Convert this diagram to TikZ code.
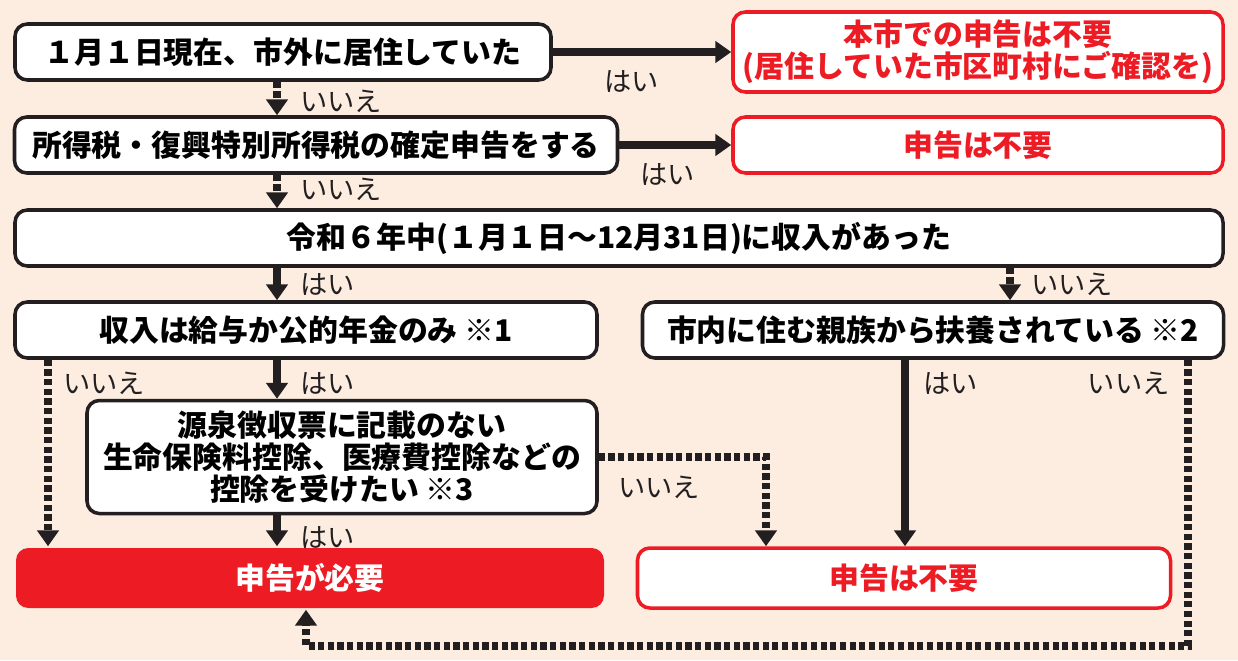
\documentclass[tikz,border=0pt]{standalone}
\usepackage{fontspec}
\setmainfont{Noto Sans CJK JP}
\usepackage{xcolor}
\usetikzlibrary{arrows.meta,calc,positioning}
\definecolor{bg}{RGB}{252,237,224}
\definecolor{hred}{RGB}{237,28,36}
\definecolor{ink}{RGB}{35,31,32}
\newlength\pw
\setlength\pw{0.02cm}

\begin{document}
\begin{tikzpicture}[x=0.02cm,y=-0.02cm,
    wh/.style 2 args={minimum width=#1*\pw,minimum height=#2*\pw},
    box/.style={draw=ink,line width=2pt,rounded corners=7pt,fill=white,align=center,
      inner sep=0pt,font=\fontsize{17}{18}\selectfont\bfseries},
    nobox/.style={box,draw=hred,text=hred},
    yesbox/.style={box,draw=none,fill=hred,text=white},
    tag/.style={inner sep=0pt,text=ink,font=\fontsize{15.5}{18}\selectfont},
    flow/.style={draw=ink,line width=4.5pt,-{Triangle[length=9pt,width=12pt]}},
    alt/.style={flow,dash pattern=on 3.5pt off 2pt}]
    \fill[bg] (0,0) rectangle (1238,660);

    \coordinate (c1) at (277,0);
    \coordinate (c2) at (1010,0);
    \coordinate (c3) at (48,0);
    \coordinate (c4) at (905,0);
    \coordinate (c5) at (1188,0);
    \coordinate (c6) at (766,0);
    \coordinate (c7) at (306,0);
    \coordinate (c8) at (0,646);

    \node[box,wh={536}{56}] (q1) at (283,52) {１月１日現在、市外に居住していた};
    \node[nobox,wh={490}{80}] (a1) at (978,52) {本市での申告は不要\\(居住していた市区町村にご確認を)};
    \node[box,wh={603}{56}] (q2) at (316,145) {所得税・復興特別所得税の確定申告をする};
    \node[nobox,wh={490}{56}] (a2) at (978,145) {申告は不要};
    \node[box,wh={1208}{56}] (q3) at (619,238) {令和６年中(１月１日～12月31日)に収入があった};
    \node[box,wh={582}{56}] (q4) at (306,330) {収入は給与か公的年金のみ ※1};
    \node[box,wh={581}{56}] (q5) at (933,330) {市内に住む親族から扶養されている ※2};
    \node[box,wh={510}{113}] (q6) at (342,457) {源泉徴収票に記載のない\\生命保険料控除、医療費控除などの\\控除を受けたい ※3};
    \node[yesbox,wh={588}{60}] (a3) at (310,578) {申告が必要};
    \node[nobox,wh={533}{60}] (a4) at (904,578) {申告は不要};

    \draw[flow] (q1) -- (a1);
    \draw[flow] (q2) -- (a2);
    \draw[alt] (q1.south -| c1) -- (q2.north -| c1);
    \draw[alt] (q2.south -| c1) -- (q3.north -| c1);
    \draw[flow] (q3.south -| c1) -- (q4.north -| c1);
    \draw[alt] (q3.south -| c2) -- (q5.north -| c2);
    \draw[flow] (q4.south -| c1) -- (q6.north -| c1);
    \draw[alt] (q4.south -| c3) -- (a3.north -| c3);
    \draw[flow] (q6.south -| c1) -- (a3.north -| c1);
    \draw[alt] (q6.east) -| (a4.north -| c6);
    \draw[flow] (q5.south -| c4) -- (a4.north -| c4);
    \draw[alt] (q5.south -| c5) -- (c5 |- c8) -| (a3.south -| c7);

    \node[tag,anchor=west] (l1) at ($(q1.east)+(51,30)$) {はい};
    \node[tag,anchor=west] (l2) at ($(q1.south -| c1)+(23,20)$) {いいえ};
    \node[tag,anchor=west] (l3) at ($(q2.east)+(21,30)$) {はい};
    \node[tag,anchor=west] (l4) at ($(q2.south -| c1)+(23,15)$) {いいえ};
    \node[tag,anchor=west] (l5) at ($(q3.south -| c1)+(23,17)$) {はい};
    \node[tag,anchor=west] (l6) at ($(q3.south -| c2)+(21,17)$) {いいえ};
    \node[tag,anchor=west] (l7) at ($(q4.south -| c3)+(15,24)$) {いいえ};
    \node[tag,anchor=west] (l8) at ($(q4.south -| c1)+(23,24)$) {はい};
    \node[tag,anchor=west] (l9) at ($(q5.south -| c4)+(18,24)$) {はい};
    \node[tag,anchor=east] (l10) at ($(q5.south -| c5)+(-18,24)$) {いいえ};
    \node[tag,anchor=west] (l11) at ($(q6.east)+(19,30)$) {いいえ};
    \node[tag,anchor=west] (l12) at ($(q6.south -| c1)+(23,22)$) {はい};
  \end{tikzpicture}
\end{document}
